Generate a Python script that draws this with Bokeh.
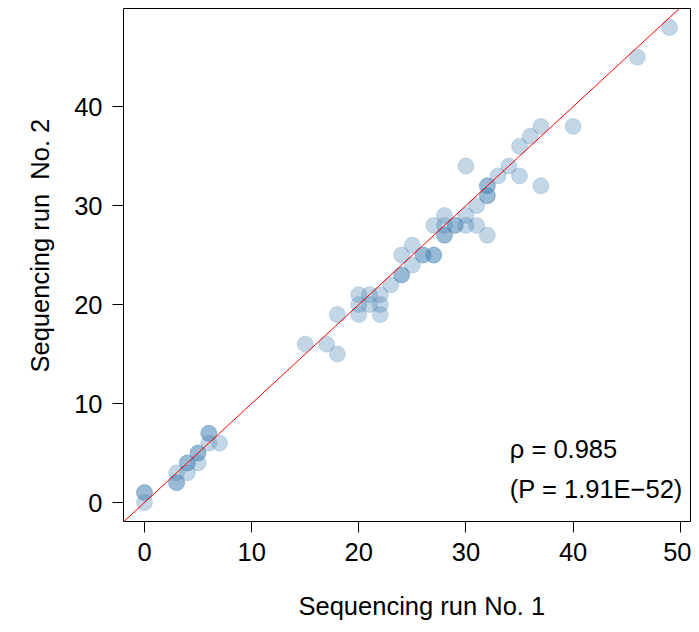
from bokeh.plotting import figure
from bokeh.models import Range1d, Slope, Label, FixedTicker, Title
from bokeh.embed import file_html
from bokeh.resources import INLINE

# Sequencing counts (duplicates = overlapping, darker points)
run1 = [0, 0, 0, 3, 3, 3, 4, 4, 4, 5, 5, 5, 6, 6, 6, 7,
        15, 17, 18, 18,
        20, 20, 20, 21, 21, 22, 22, 22,
        23, 24, 24, 24, 25, 25, 26, 26, 27, 27,
        27, 28, 28, 28, 28, 29, 29, 30, 30, 31, 31, 32,
        30, 32, 32, 32, 32, 33, 34, 35, 35, 36, 37, 37, 40, 46, 49]
run2 = [0, 1, 1, 2, 2, 3, 3, 4, 4, 4, 5, 5, 6, 7, 7, 6,
        16, 16, 15, 19,
        19, 20, 21, 20, 21, 19, 20, 21,
        22, 23, 23, 25, 24, 26, 25, 25, 25, 25,
        28, 27, 27, 28, 29, 28, 28, 28, 29, 28, 30, 27,
        34, 31, 31, 32, 32, 33, 34, 33, 36, 37, 32, 38, 38, 45, 48]

x_ticks = [0, 10, 20, 30, 40, 50]
y_ticks = [0, 10, 20, 30, 40]
x_label = "Sequencing run No. 1"
y_label = "Sequencing run \u00a0No. 2"
rho_text = "ρ = 0.985"
p_text = "(P = 1.91E−52)"

FONT = "Liberation Sans"
FS = "25.5px"

p = figure(frame_width=567, frame_height=513,
           output_backend="svg", toolbar_location=None,
           x_range=Range1d(-1.96, 50.96), y_range=Range1d(-1.92, 49.92),
           min_border_left=123, min_border_right=1, min_border_top=8,
           min_border_bottom=103)

p.xgrid.visible = False
p.ygrid.visible = False
p.outline_line_color = "black"
p.outline_line_width = 1
p.outline_line_alpha = 1
p.background_fill_color = "white"
p.border_fill_color = "white"

p.scatter(run1, run2, size=16, marker="circle",
          fill_color="#4682B4", fill_alpha=0.33,
          line_color="#4682B4", line_alpha=0.22, line_width=1)

p.add_layout(Slope(gradient=1, y_intercept=0, line_color="red", line_width=1))

p.xaxis.ticker = FixedTicker(ticks=x_ticks)
p.yaxis.ticker = FixedTicker(ticks=y_ticks)
for ax in (p.xaxis[0], p.yaxis[0]):
    ax.axis_line_color = None
    ax.major_tick_in = 0
    ax.major_tick_out = 11
    ax.major_tick_line_color = "black"
    ax.minor_tick_line_color = None
    ax.major_label_text_font = FONT
    ax.major_label_text_font_size = FS
    ax.major_label_text_color = "black"
p.xaxis.major_label_standoff = 10
p.yaxis.major_label_standoff = 10

# axis titles (placed slightly off-centre, as in the reference)
p.add_layout(Title(text=x_label, align="left", offset=175, standoff=53,
                   text_font=FONT, text_font_size=FS, text_font_style="normal",
                   text_color="black"), "below")
p.add_layout(Title(text=y_label, align="left", offset=149, standoff=35,
                   text_font=FONT, text_font_size=FS, text_font_style="normal",
                   text_color="black"), "left")

p.add_layout(Label(x=34.1, y=5.4, text=rho_text, text_font=FONT,
                   text_font_size=FS, text_align="left",
                   text_baseline="middle", text_color="black"))
p.add_layout(Label(x=34.1, y=1.4, text=p_text, text_font=FONT,
                   text_font_size=FS, text_align="left",
                   text_baseline="middle", text_color="black"))

open("out.html", "w").write(file_html(p, INLINE))
